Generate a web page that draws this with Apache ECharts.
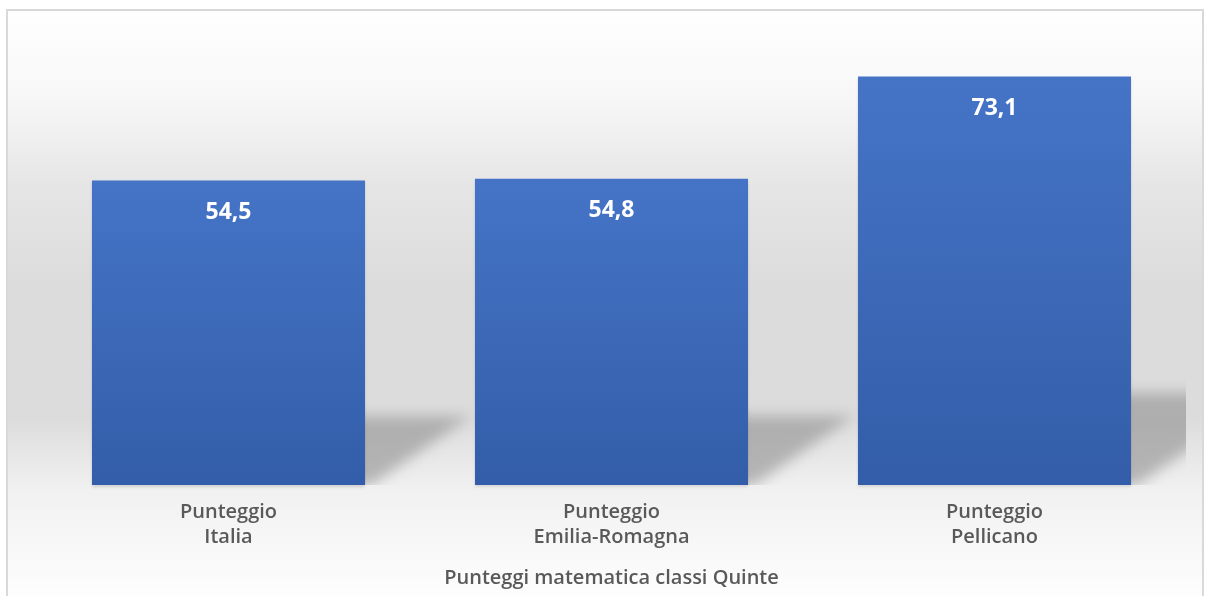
<!DOCTYPE html>
<html>
<head>
<meta charset="utf-8">
<script src="https://cdn.jsdelivr.net/npm/echarts@6/dist/echarts.min.js"></script>
<style>
html,body{margin:0;padding:0;background:#fff;}
#c{width:1205px;height:596px;}
</style>
</head>
<body>
<div id="c"></div>
<script>
var categories = ['Punteggio\nItalia', 'Punteggio\nEmilia-Romagna', 'Punteggio\nPellicano'];
var values = [54.5, 54.8, 73.1];
var axisTitle = 'Punteggi matematica classi Quinte';

var chart = echarts.init(document.getElementById('c'), null, {renderer: 'canvas'});
var BAR_FRAC = 0.713;
var OFF = 3000;

function renderShadow(params, api) {
  var idx = api.value(0);
  var v = api.value(1);
  var top = api.coord([idx, v]);
  var base = api.coord([idx, 0]);
  var band = api.size([1, 0])[0];
  var bw = band * BAR_FRAC;
  var xr = base[0] + bw / 2;
  var h = base[1] - top[1];
  var hs = h * 0.225;
  var y0 = base[1];
  var yt = y0 - hs;
  var pts = [
    [xr - 30 - OFF, y0],
    [xr - 30 - OFF, yt],
    [xr + 6 + hs * 1.45 - OFF, yt],
    [xr + 6 - OFF, y0]
  ];
  return {
    type: 'polygon',
    shape: {points: pts},
    style: {
      fill: '#b4b4b4',
      shadowColor: 'rgba(145,145,145,0.62)',
      shadowBlur: 14,
      shadowOffsetX: OFF,
      shadowOffsetY: 0
    }
  };
}

var option = {
  animation: false,
  backgroundColor: '#ffffff',
  graphic: [{
    type: 'rect',
    z: -10,
    silent: true,
    shape: {x: 7, y: 10, width: 1196, height: 600},
    style: {
      fill: new echarts.graphic.LinearGradient(0, 0, 0, 1, [
        {offset: 0, color: '#ffffff'},
        {offset: 0.15, color: '#f7f7f7'},
        {offset: 0.29, color: '#e6e6e6'},
        {offset: 0.46, color: '#dcdcdc'},
        {offset: 0.68, color: '#dcdcdc'},
        {offset: 0.8, color: '#f1f1f1'},
        {offset: 1, color: '#ffffff'}
      ]),
      stroke: '#d9d9d9',
      lineWidth: 2
    }
  }],
  grid: {left: 37, right: 19, top: 38, bottom: 111},
  xAxis: {
    type: 'category',
    data: categories,
    axisLine: {show: false},
    axisTick: {show: false},
    axisLabel: {
      color: '#595959',
      fontFamily: 'Open Sans',
      fontWeight: 600,
      fontSize: 20,
      lineHeight: 25,
      margin: 15
    },
    name: axisTitle,
    nameLocation: 'middle',
    nameGap: 83,
    nameTextStyle: {
      color: '#595959',
      fontFamily: 'Open Sans',
      fontWeight: 600,
      fontSize: 20
    }
  },
  yAxis: {
    type: 'value',
    min: 0,
    max: 80,
    show: false,
    splitLine: {show: false}
  },
  series: [{
    type: 'custom',
    renderItem: renderShadow,
    clip: true,
    z: 1,
    silent: true,
    data: values.map(function (v, i) { return [i, v]; }),
    encode: {x: 0, y: 1}
  }, {
    type: 'bar',
    z: 2,
    data: values,
    barWidth: (BAR_FRAC * 100) + '%',
    itemStyle: {
      color: new echarts.graphic.LinearGradient(0, 0, 0, 1, [
        {offset: 0, color: '#4574c7'},
        {offset: 1, color: '#335da8'}
      ]),
      shadowColor: 'rgba(0,0,0,0.15)',
      shadowBlur: 3,
      shadowOffsetY: 2
    },
    label: {
      show: true,
      position: 'insideTop',
      distance: 20,
      color: '#ffffff',
      fontFamily: 'Open Sans',
      fontWeight: 'bold',
      fontSize: 23,
      formatter: function (p) { return String(p.value.toFixed(1)).replace('.', ','); }
    }
  }]
};
chart.setOption(option);
</script>
</body>
</html>
